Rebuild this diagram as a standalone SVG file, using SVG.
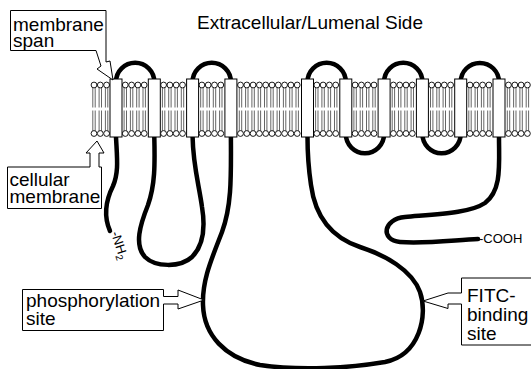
<svg xmlns="http://www.w3.org/2000/svg" xmlns:xlink="http://www.w3.org/1999/xlink" width="531" height="369" viewBox="0 0 531 369">
  <style>
    .lbl { font-family: "Liberation Sans", Arial, sans-serif; font-size: 19px; fill: #000; }
    .term { font-family: "Liberation Sans", Arial, sans-serif; font-size: 13px; fill: #000; }
    .chain { fill: none; stroke: #000; stroke-width: 4.5; stroke-linecap: round; }
    .tm { fill: #fff; stroke: #000; stroke-width: 1; }
    .callout { fill: #fff; stroke: #000; stroke-width: 1; stroke-linejoin: miter; }
    .head { fill: #fff; stroke: #000; stroke-width: 0.9; }
    .tail { stroke: #333; stroke-width: 0.75; }
  </style>
  <defs>
    <!-- one phospholipid: outer head, two tails per leaflet, inner head -->
    <g id="lipid">
      <line class="tail" x1="-1.2" y1="87.5" x2="-1.2" y2="107.5"/>
      <line class="tail" x1="1.2" y1="87.5" x2="1.2" y2="107.5"/>
      <line class="tail" x1="-1.2" y1="110.5" x2="-1.2" y2="131"/>
      <line class="tail" x1="1.2" y1="110.5" x2="1.2" y2="131"/>
      <circle class="head" cx="0" cy="85" r="2.9"/>
      <circle class="head" cx="0" cy="133.5" r="2.9"/>
    </g>
    <g id="quad">
      <use xlink:href="#lipid" x="0"/>
      <use xlink:href="#lipid" x="6.3"/>
      <use xlink:href="#lipid" x="12.6"/>
      <use xlink:href="#lipid" x="18.9"/>
    </g>
  </defs>

  <rect width="531" height="369" fill="#fff"/>

  <text class="lbl" x="197" y="29">Extracellular/Lumenal Side</text>

  <!-- lipid bilayer -->
  <g id="bilayer">
    <use xlink:href="#lipid" x="94"/>
    <use xlink:href="#lipid" x="100.3"/>
    <use xlink:href="#lipid" x="106.6"/>
    <use xlink:href="#quad" x="125.3"/>
    <use xlink:href="#quad" x="163.6"/>
    <use xlink:href="#quad" x="201.9"/>
    <use xlink:href="#quad" x="240.5"/>
    <use xlink:href="#quad" x="265.7"/>
    <use xlink:href="#lipid" x="290.9"/>
    <use xlink:href="#lipid" x="297.2"/>
    <use xlink:href="#quad" x="316.8"/>
    <use xlink:href="#quad" x="355.1"/>
    <use xlink:href="#quad" x="393.4"/>
    <use xlink:href="#quad" x="431.7"/>
    <use xlink:href="#quad" x="470"/>
    <use xlink:href="#quad" x="508.5"/>
  </g>

  <!-- polypeptide chain -->
  <g id="connectors">
    <!-- extracellular loops -->
    <path class="chain" d="M116,82 A19.15,19.15 0 0 1 154.3,82"/>
    <path class="chain" d="M192.6,82 A19.15,19.15 0 0 1 230.9,82"/>
    <path class="chain" d="M307.5,82 A19.15,19.15 0 0 1 345.8,82"/>
    <path class="chain" d="M384.1,82 A19.15,19.15 0 0 1 422.4,82"/>
    <path class="chain" d="M460.7,82 A19.15,19.15 0 0 1 499,82"/>
    <!-- short cytoplasmic loops -->
    <path class="chain" d="M345.8,134 A19.15,19.15 0 0 0 384.1,134"/>
    <path class="chain" d="M422.4,134 A19.15,19.15 0 0 0 460.7,134"/>
    <!-- N-terminal tail -->
    <path class="chain" d="M116,137 C117,158 119,172 113,186 C106,200 103,215 110,231"/>
    <!-- second cytoplasmic loop -->
    <path class="chain" d="M154.3,137 C155,165 155,185 148,205 C140,225 134,245 145,257 C155,267 180,268 192,257 C204,245 205,225 202,207 C199,185 193,165 192.6,137"/>
    <!-- large cytoplasmic loop -->
    <path class="chain" d="M230.9,137 C231,175 232,205 222,232 C212,258 202,280 203,305 C204,335 225,358 260,365 C300,371 350,368 385,362 C420,355 428,315 420,292 C412,270 385,255 360,247 C330,237 315,215 311,185 C308,165 307.5,150 307.5,137"/>
    <!-- C-terminal tail -->
    <path class="chain" d="M499,137 C499,165 502,190 485,203 C470,213 440,214 405,217 C383,219 380,240 400,242 C425,244 455,240 478,239"/>
  </g>

  <!-- transmembrane segments -->
  <g id="segments">
    <rect class="tm" x="110" y="79" width="12" height="58"/>
    <rect class="tm" x="148.3" y="79" width="12" height="58"/>
    <rect class="tm" x="186.6" y="79" width="12" height="58"/>
    <rect class="tm" x="224.9" y="79" width="12" height="58"/>
    <rect class="tm" x="301.5" y="79" width="12" height="58"/>
    <rect class="tm" x="339.8" y="79" width="12" height="58"/>
    <rect class="tm" x="378.1" y="79" width="12" height="58"/>
    <rect class="tm" x="416.4" y="79" width="12" height="58"/>
    <rect class="tm" x="454.7" y="79" width="12" height="58"/>
    <rect class="tm" x="493" y="79" width="12" height="58"/>
  </g>

  <text class="term" transform="translate(111,233) rotate(72)">-NH<tspan dy="3" font-size="10">2</tspan></text>
  <text class="term" x="479" y="243">-COOH</text>

  <!-- callouts -->
  <g id="membrane-span">
    <path class="callout" d="M10.5,10.5 H106 V62 L110,61 L113,80 L97,69 L101,66 L96,50.5 H10.5 Z"/>
    <text class="lbl" x="13" y="31">membrane</text>
    <text class="lbl" x="13" y="47">span</text>
  </g>
  <g id="cellular-membrane">
    <path class="callout" d="M7.5,167 H90 V153 H86 L97,141 L104,153 H99 V167 H101.5 V208.5 H7.5 Z"/>
    <text class="lbl" x="9.5" y="186">cellular</text>
    <text class="lbl" x="9.5" y="203">membrane</text>
  </g>
  <g id="phosphorylation-site">
    <path class="callout" d="M22.5,289.5 H163.5 V296.5 H178 V290 L204,300 L178,309 V304 H163.5 V330.5 H22.5 Z"/>
    <text class="lbl" x="26" y="307">phosphorylation</text>
    <text class="lbl" x="26" y="325">site</text>
  </g>
  <g id="fitc-binding-site">
    <path class="callout" d="M534,278 H461.5 V293 H448 L423,301 L448,308.5 V304 H461.5 V345 H534"/>
    <text class="lbl" x="467" y="302">FITC-</text>
    <text class="lbl" x="467" y="321">binding</text>
    <text class="lbl" x="467" y="340">site</text>
  </g>
</svg>
